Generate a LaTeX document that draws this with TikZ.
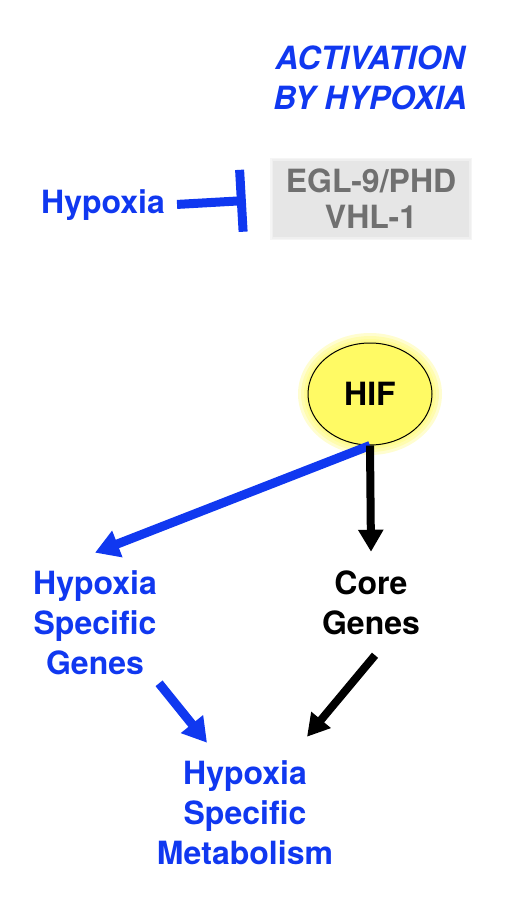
\documentclass[tikz,border=0pt]{standalone}
\usepackage{fontspec}
\setmainfont{TeX Gyre Heros}
\usetikzlibrary{shapes.geometric, arrows.meta}
\definecolor{hypblue}{RGB}{16,56,240}
\definecolor{boxgray}{RGB}{230,230,230}
\definecolor{textgray}{RGB}{112,112,112}
\definecolor{hifyellow}{RGB}{255,250,100}
\tikzstyle{term} = [font=\fontsize{32}{40}\selectfont\bfseries, align=center, inner sep=2pt]
\tikzstyle{blueterm} = [term, text=hypblue]
\tikzstyle{title} = [term, font=\fontsize{32}{40}\selectfont\bfseries\itshape, text=hypblue]
\tikzstyle{enzyme} = [rectangle, term, font=\fontsize{32}{36}\selectfont\bfseries, fill=boxgray, text=textgray, minimum width=196pt, minimum height=76pt]
\tikzstyle{hif} = [ellipse, term, draw=black, line width=1pt, fill=hifyellow, minimum width=124pt, minimum height=102pt]
\tikzstyle{bluearrow} = [draw=hypblue, line width=9pt, -{Triangle[length=24pt,width=27pt]}]
\tikzstyle{blackarrow} = [draw=black, line width=8pt, -{Triangle[length=22pt,width=24pt]}]
\tikzstyle{inhibit} = [draw=hypblue, line width=9pt, -{Bar[width=62pt,line width=9pt]}]

\begin{document}
\begin{tikzpicture}[x=1pt, y=1pt]
    \useasboundingbox (0,0) rectangle (526,-901);
    \node [title] at (370,-78) (act) {ACTIVATION\\BY HYPOXIA};
    \node [blueterm] at (103,-205) (hyp) {Hypoxia};
    % soft edge of the grey box
    \foreach \g in {3,1.5}
        \fill [boxgray, opacity=0.4] (273-\g,-161+\g) rectangle (469+\g,-237-\g);
    \node [enzyme] at (371,-199) (egl) {EGL-9/PHD\\VHL-1};
    \draw [inhibit, shorten <=10pt, shorten >=27pt] (hyp.east) -- (egl.west);
    % yellow glow round HIF
    \coordinate (hifc) at (370,-394);
    \foreach \r in {10,7,4,2}
        \fill [hifyellow, opacity=0.3] (hifc) ellipse [x radius=62+\r, y radius=51+\r];
    \node [hif] at (hifc) (hifn) {HIF};
    \node [blueterm] at (95,-623) (hsg) {Hypoxia\\Specific\\Genes};
    \node [term] at (371,-603) (core) {Core\\Genes};
    \node [blueterm] at (245,-813) (hsm) {Hypoxia\\Specific\\Metabolism};
    \draw [bluearrow] (hifn.south) -- ([yshift=16pt]hsg.north);
    \draw [blackarrow] (hifn.south) -- ([yshift=17pt]core.north);
    \draw [bluearrow] ([yshift=-6pt]hsg.south east) -- ([shift={(-38pt,16pt)}]hsm.north);
    \draw [blackarrow] ([shift={(4pt,-18pt)}]core.south) -- ([shift={(62pt,22pt)}]hsm.north);
\end{tikzpicture}
\end{document}
